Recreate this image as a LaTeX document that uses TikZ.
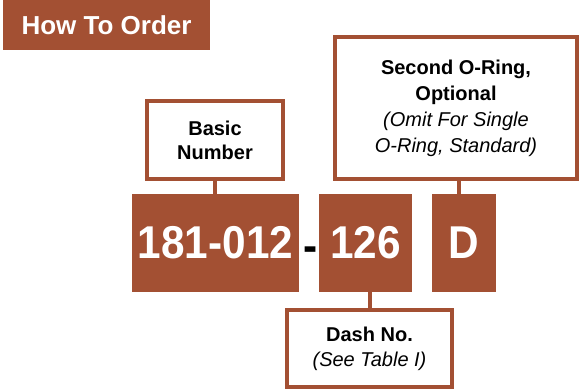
\documentclass[tikz,border=0pt]{standalone}
\usepackage{fontspec}
\setmainfont{Liberation Sans}
\newfontfamily\tagfont[FakeStretch=0.92]{Liberation Sans}
\usepackage{tikz}
\definecolor{rust}{RGB}{163,80,51}

\begin{document}
\begin{tikzpicture}[x=1pt,y=-1pt,
  tag/.style={fill=rust, text=white, font=\tagfont\bfseries\fontsize{46}{46}\selectfont, inner sep=0pt, minimum height=98pt},
  callout/.style={draw=rust, line width=4pt, fill=white, align=center, inner sep=0pt},
  link/.style={draw=rust, line width=4pt}]
\useasboundingbox (0,0) rectangle (580,391);
% heading
\node[fill=rust, text=white, font=\bfseries\fontsize{26}{26}\selectfont, minimum width=207pt, minimum height=50pt, inner sep=0pt] (title) at (106.5,25) {How To Order};
% part number
\node[tag, minimum width=167pt] (basicno) at (215.5,243) {181-012};
\node[font=\tagfont\bfseries\fontsize{46}{46}\selectfont, inner sep=0pt, anchor=base] (sep) at (310.5,261) {-};
\node[tag, minimum width=93pt] (dashno) at (365.5,243) {126};
\node[tag, minimum width=64pt] (ring) at (464,243) {D};
% callouts
\node[callout, minimum width=136pt, minimum height=78pt, font=\fontsize{20}{24}\selectfont] (basic) at (215,140) {\textbf{Basic}\\\textbf{Number}};
\node[callout, minimum width=242pt, minimum height=142pt, font=\fontsize{20}{26}\selectfont] (second) at (456,108) {\textbf{Second O-Ring,}\\\textbf{Optional}\\\textit{(Omit For Single}\\\textit{O-Ring, Standard)}};
\node[callout, minimum width=165pt, minimum height=77pt, font=\fontsize{20}{25}\selectfont] (dash) at (369.5,348.5) {\textbf{Dash No.}\\\textit{(See Table I)}};
% connectors
\draw[link] (basic.south) -- (basic.south |- basicno.north);
\draw[link] ([xshift=3pt]second.south) -- ([xshift=3pt]second.south |- ring.north);
\draw[link] (dash.north) -- (dash.north |- dashno.south);
\end{tikzpicture}
\end{document}
